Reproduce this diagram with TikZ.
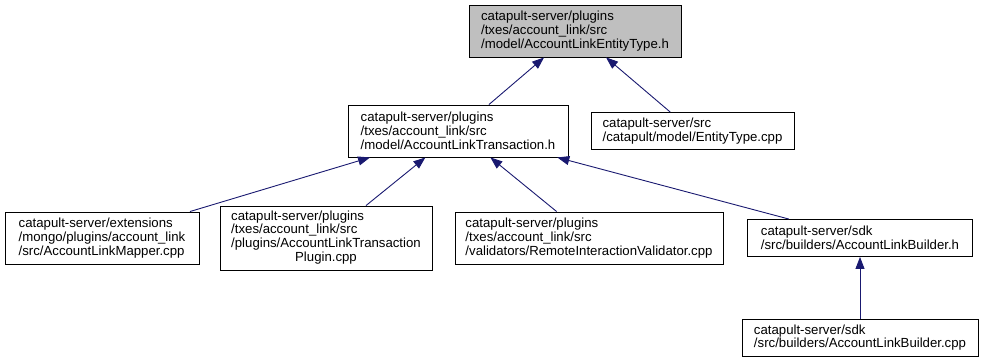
\documentclass[tikz,border=0pt]{standalone}
\usepackage{fontspec}
\setmainfont{Liberation Sans}
\usetikzlibrary{arrows.meta}
\definecolor{edgeblue}{RGB}{25,25,112}
\definecolor{rootfill}{RGB}{191,191,191}
\begin{document}
\begin{tikzpicture}[x=1pt,y=-1pt,
  filebox/.style={draw=black, line width=0.9pt, fill=white, inner xsep=0pt, inner ysep=0pt,
    font=\fontsize{13.2}{13.8}\selectfont, anchor=center},
  file/.style={filebox, align=left},
  dep/.style={draw=edgeblue, line width=0.9pt, -{Triangle[length=12pt,width=9pt]}},
]
\useasboundingbox (0,0) rectangle (985,363);

% include-graph nodes
\node[file, fill=rootfill, minimum width=212pt, minimum height=52pt] (entitytype) at (575,31)
  {catapult-server/plugins\\/txes/account\_link/src\\/model/AccountLinkEntityType.h};

\node[file, minimum width=220pt, minimum height=52pt] (transaction) at (458,131)
  {catapult-server/plugins\\/txes/account\_link/src\\/model/AccountLinkTransaction.h};
\node[file, minimum width=203pt, minimum height=37pt] (entitycpp) at (692.5,131)
  {catapult-server/src\\/catapult/model/EntityType.cpp};

\node[file, minimum width=194pt, minimum height=52pt] (mapper) at (102,238)
  {catapult-server/extensions\\/mongo/plugins/account\_link\\/src/AccountLinkMapper.cpp};
\node[filebox, minimum width=212pt, minimum height=64pt] (plugin) at (326,238)
  {\begin{tabular}{@{}l@{}}catapult-server/plugins\\/txes/account\_link/src\\/plugins/AccountLinkTransaction\\\multicolumn{1}{@{}c@{}}{Plugin.cpp}\end{tabular}};
\node[file, minimum width=268pt, minimum height=52pt] (validator) at (589,238)
  {catapult-server/plugins\\/txes/account\_link/src\\/validators/RemoteInteractionValidator.cpp};
\node[file, minimum width=225pt, minimum height=37pt] (builderh) at (860,238)
  {catapult-server/sdk\\/src/builders/AccountLinkBuilder.h};

\node[file, minimum width=236pt, minimum height=37pt] (buildercpp) at (860,337.5)
  {catapult-server/sdk\\/src/builders/AccountLinkBuilder.cpp};

% dependency edges, arrowhead at the included file
\draw[dep] (transaction) -- (entitytype);
\draw[dep] (entitycpp) -- (entitytype);
\draw[dep] (mapper) -- (transaction);
\draw[dep] (plugin) -- (transaction);
\draw[dep] (validator) -- (transaction);
\draw[dep] (builderh) -- (transaction);
\draw[dep] (buildercpp) -- (builderh);
\end{tikzpicture}
\end{document}
